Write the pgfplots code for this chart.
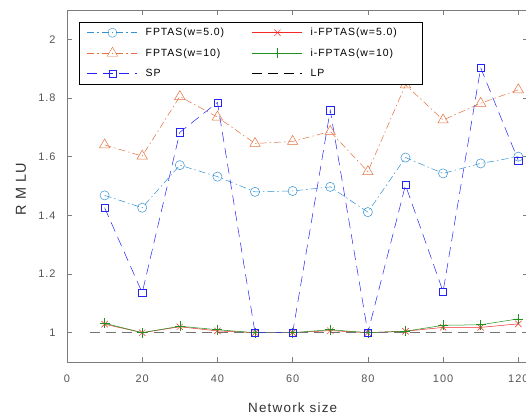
\documentclass[border=0pt]{standalone}
\usepackage{pgfplots}
\pgfplotsset{compat=1.18}
\usepackage{fontspec}
\setmainfont{Liberation Sans}
\newfontfamily\lsfont[LetterSpace=9]{Liberation Sans}
\definecolor{cfa}{RGB}{50,145,210}
\definecolor{cfb}{RGB}{228,112,62}
\definecolor{csp}{RGB}{35,35,250}
\definecolor{cra}{RGB}{245,40,40}
\definecolor{cgr}{RGB}{30,145,30}
\definecolor{axgray}{RGB}{125,125,125}
\definecolor{txtgray}{RGB}{85,85,85}
\begin{document}
\begin{tikzpicture}
\tikzset{
    dashdot_s/.style={dash pattern=on 7bp off 3bp on 1.5bp off 3bp},
    long_dash/.style={dash pattern=on 10bp off 6bp},
}
% legend sample: #1 = line style, #2 = mark style
\pgfplotsset{
    leg/.style 2 args={legend image code/.code={%
        \draw[#1] (0bp,0bp) -- (50bp,0bp);
        \draw[#2] plot coordinates {(25bp,0bp)};}},
}
\begin{axis}[%
    ,scale only axis
    ,width=460.7bp,height=352bp
    ,xmin=0,xmax=122.5
    ,ymin=0.9,ymax=2.1
    ,xtick={0,20,...,120}
    ,ytick={1,1.2,1.4,1.6,1.8,2}
    ,yticklabels={1,1.2,1.4,1.6,1.8,2}
    ,tick align=inside
    ,tick style={axgray,line width=0.5bp}
    ,major tick length=5bp
    ,axis line style={axgray,line width=0.6bp}
    ,tick label style={font=\lsfont\fontsize{11}{12}\selectfont,text=txtgray}
    ,xticklabel style={yshift=-9bp}
    ,yticklabel style={xshift=-8bp}
    ,/pgf/number format/assume math mode=true
    ,xlabel={Network size}
    ,ylabel={R M LU}
    ,xlabel style={font=\lsfont\fontsize{13.5}{15}\selectfont,text=black!80,
        at={(axis cs:60,0.9)},anchor=center,yshift=-46bp}
    ,ylabel style={font=\lsfont\fontsize{14.5}{16}\selectfont,text=black!80,
        at={(rel axis cs:0,0.5)},anchor=center,yshift=46bp,xshift=-3bp}
    ,legend columns=2
    ,legend style={at={(0.026,0.966)},anchor=north west,
        font=\lsfont\fontsize{10.5}{12}\selectfont,row sep=7.5bp,
        inner xsep=8bp,inner ysep=4bp,
        /tikz/every odd column/.append style={column sep=6bp},
        /tikz/every even column/.append style={column sep=26bp}}
    ,legend cell align=left
    ]
% FPTAS w=5
\addplot[cfa, line width=0.5bp, dashdot_s, mark=o, mark size=4.6bp, mark options={solid}, forget plot] coordinates {
 (10,1.468) (20,1.426) (30,1.571) (40,1.532) (50,1.480) (60,1.483)
 (70,1.497) (80,1.411) (90,1.597) (100,1.543) (110,1.577) (120,1.600)};
% i-FPTAS w=5
\addplot[cra, line width=0.5bp, mark=x, mark size=4.5bp, forget plot] coordinates {
 (10,1.029) (20,1.0) (30,1.020) (40,1.006) (50,1.0) (60,1.0)
 (70,1.007) (80,1.0) (90,1.005) (100,1.018) (110,1.018) (120,1.030)};
% FPTAS w=10
\addplot[cfb, line width=0.5bp, dashdot_s, mark=triangle, mark size=6bp, mark options={solid}, forget plot] coordinates {
 (10,1.640) (20,1.602) (30,1.805) (40,1.735) (50,1.645) (60,1.652)
 (70,1.686) (80,1.549) (90,1.845) (100,1.725) (110,1.782) (120,1.828)};
% i-FPTAS w=10
\addplot[cgr, line width=0.5bp, mark=+, mark size=5bp, forget plot] coordinates {
 (10,1.032) (20,1.0) (30,1.022) (40,1.010) (50,1.0) (60,1.0)
 (70,1.010) (80,1.0) (90,1.005) (100,1.025) (110,1.027) (120,1.047)};
% SP
\addplot[csp, line width=0.5bp, long_dash, mark=square, mark size=3.6bp, mark options={solid}, forget plot] coordinates {
 (10,1.426) (20,1.136) (30,1.683) (40,1.785) (50,1.0) (60,1.0)
 (70,1.758) (80,1.0) (90,1.503) (100,1.140) (110,1.903) (120,1.587)};
% LP
\addplot[black!55, line width=0.5bp, long_dash, forget plot] coordinates {(6,1) (122.5,1)};
% legend, in the reference's order
\addlegendimage{leg={draw=cfa,line width=0.5bp,dashdot_s}{draw=cfa,mark=o,mark size=4.6bp}}
\addlegendentry{FPTAS(w=5.0)}
\addlegendimage{leg={draw=cra,line width=0.5bp}{draw=cra,mark=x,mark size=4.5bp}}
\addlegendentry{i-FPTAS(w=5.0)\hspace*{15bp}}
\addlegendimage{leg={draw=cfb,line width=0.5bp,dashdot_s}{draw=cfb,mark=triangle,mark size=6bp}}
\addlegendentry{FPTAS(w=10)}
\addlegendimage{leg={draw=cgr,line width=0.5bp}{draw=cgr,mark=+,mark size=5bp}}
\addlegendentry{i-FPTAS(w=10)}
\addlegendimage{leg={draw=csp,line width=0.5bp,long_dash}{draw=csp,mark=square,mark size=3.6bp}}
\addlegendentry{SP}
\addlegendimage{leg={draw=black,line width=0.6bp,long_dash}{draw=none}}
\addlegendentry{LP}
\end{axis}
\pgfresetboundingbox
\path ([shift={(-67bp,-54bp)}]current axis.south west) rectangle ([shift={(459bp,10bp)}]current axis.north west);
\end{tikzpicture}
\end{document}
